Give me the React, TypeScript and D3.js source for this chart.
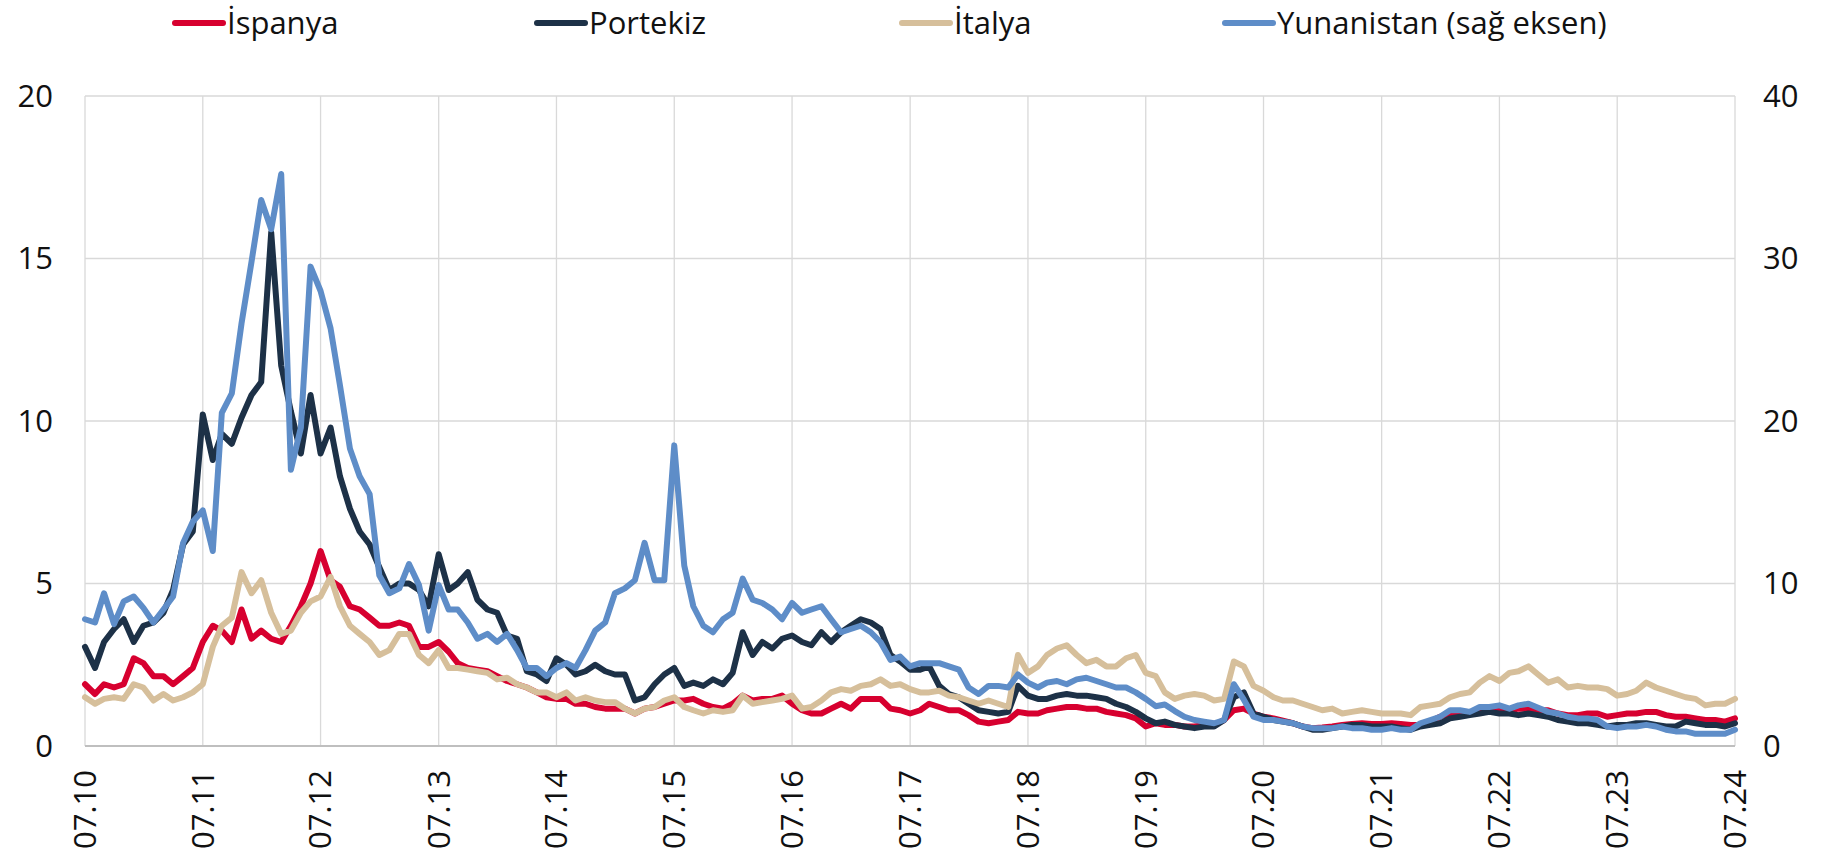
import React from "react";
import * as d3 from "d3";

// monthly values, Jan 2010 .. Jan 2024
const spain = [
  1.9, 1.6, 1.9, 1.8, 1.9, 2.7, 2.55, 2.15, 2.15, 1.9, 2.15, 2.4,
  3.2, 3.7, 3.55, 3.2, 4.2, 3.3, 3.55, 3.3, 3.2, 3.7, 4.3, 5.0,
  6.0, 5.1, 4.9, 4.3, 4.2, 3.95, 3.7, 3.7, 3.8, 3.7, 3.05, 3.05,
  3.2, 2.9, 2.55, 2.4, 2.35, 2.3, 2.15, 2.0, 1.9, 1.8, 1.65, 1.5,
  1.45, 1.45, 1.3, 1.3, 1.2, 1.15, 1.15, 1.15, 1.0, 1.15, 1.2, 1.3,
  1.4, 1.4, 1.45, 1.3, 1.2, 1.15, 1.3, 1.55, 1.4, 1.45, 1.45, 1.55,
  1.3, 1.1, 1.0, 1.0, 1.15, 1.3, 1.15, 1.45, 1.45, 1.45, 1.15, 1.1,
  1.0, 1.1, 1.3, 1.2, 1.1, 1.1, 0.95, 0.75, 0.7, 0.75, 0.8, 1.05,
  1.0, 1.0, 1.1, 1.15, 1.2, 1.2, 1.15, 1.15, 1.05, 1.0, 0.95, 0.85,
  0.6, 0.7, 0.65, 0.65, 0.6, 0.6, 0.65, 0.65, 0.8, 1.1, 1.15, 1.0,
  0.9, 0.85, 0.78, 0.7, 0.6, 0.55, 0.57, 0.6, 0.65, 0.68, 0.7, 0.68,
  0.68, 0.7, 0.68, 0.65, 0.65, 0.75, 0.9, 1.0, 0.95, 1.0, 1.1, 1.2,
  1.1, 1.1, 1.15, 1.15, 1.1, 1.1, 1.0, 0.95, 0.95, 1.0, 1.0, 0.9,
  0.95, 1.0, 1.0, 1.05, 1.05, 0.95, 0.9, 0.9, 0.85, 0.8, 0.8, 0.75,
  0.85,
];

const portugal = [
  3.05, 2.4, 3.2, 3.6, 3.9, 3.2, 3.7, 3.8, 4.1, 4.8, 6.2, 6.6,
  10.2, 8.8, 9.6, 9.3, 10.1, 10.8, 11.2, 15.8, 11.7, 10.3, 9.0, 10.8,
  9.0, 9.8, 8.3, 7.3, 6.6, 6.2, 5.5, 4.8, 5.0, 5.0, 4.8, 4.3,
  5.9, 4.8, 5.0, 5.35, 4.5, 4.2, 4.1, 3.4, 3.3, 2.3, 2.2, 2.0,
  2.7, 2.5, 2.2, 2.3, 2.5, 2.3, 2.2, 2.2, 1.4, 1.5, 1.9, 2.2,
  2.4, 1.85, 1.95, 1.85, 2.05, 1.9, 2.25, 3.5, 2.8, 3.2, 3.0, 3.3,
  3.4, 3.2, 3.1, 3.5, 3.2, 3.5, 3.7, 3.9, 3.8, 3.6, 2.8, 2.6,
  2.35, 2.35, 2.45, 1.85, 1.6, 1.5, 1.3, 1.1, 1.05, 1.0, 1.05, 1.85,
  1.55, 1.45, 1.45, 1.55, 1.6, 1.55, 1.55, 1.5, 1.45, 1.3, 1.2, 1.05,
  0.85, 0.7, 0.75, 0.65, 0.6, 0.55, 0.6, 0.6, 0.8, 1.5, 1.65, 1.0,
  0.9, 0.8, 0.75, 0.7, 0.6, 0.5, 0.5, 0.55, 0.6, 0.65, 0.65, 0.6,
  0.6, 0.6, 0.55, 0.5, 0.6, 0.65, 0.7, 0.85, 0.9, 0.95, 1.0, 1.05,
  1.0, 1.0, 0.95, 1.0, 0.95, 0.9, 0.8, 0.75, 0.7, 0.7, 0.65, 0.6,
  0.65, 0.65, 0.7, 0.7, 0.65, 0.6, 0.6, 0.75, 0.7, 0.65, 0.65, 0.6,
  0.7,
];

const italy = [
  1.5, 1.3, 1.45, 1.5, 1.45, 1.9, 1.8, 1.4, 1.6, 1.4, 1.5, 1.65,
  1.9, 3.05, 3.7, 3.95, 5.35, 4.7, 5.1, 4.1, 3.45, 3.55, 4.1, 4.45,
  4.6, 5.2, 4.3, 3.7, 3.45, 3.2, 2.8, 2.95, 3.45, 3.45, 2.8, 2.55,
  2.95, 2.4, 2.4, 2.35, 2.3, 2.25, 2.05, 2.1, 1.9, 1.8, 1.65, 1.65,
  1.5, 1.65, 1.4, 1.5, 1.4, 1.35, 1.35, 1.15, 1.0, 1.15, 1.2, 1.4,
  1.5, 1.2, 1.1, 1.0, 1.1, 1.05, 1.1, 1.55, 1.3, 1.35, 1.4, 1.45,
  1.55, 1.15, 1.2, 1.4, 1.65, 1.75, 1.7, 1.85, 1.9, 2.05, 1.85, 1.9,
  1.75, 1.65, 1.65, 1.7, 1.55, 1.5, 1.4, 1.3, 1.4, 1.3, 1.2, 2.8,
  2.25, 2.45, 2.8, 3.0, 3.1, 2.8, 2.55, 2.65, 2.45, 2.45, 2.7, 2.8,
  2.25, 2.15, 1.65, 1.45, 1.55, 1.6, 1.55, 1.4, 1.45, 2.6, 2.45, 1.85,
  1.7, 1.5, 1.4, 1.4, 1.3, 1.2, 1.1, 1.15, 1.0, 1.05, 1.1, 1.05,
  1.0, 1.0, 1.0, 0.95, 1.2, 1.25, 1.3, 1.5, 1.6, 1.65, 1.95, 2.15,
  2.0, 2.25, 2.3, 2.45, 2.2, 1.95, 2.05, 1.8, 1.85, 1.8, 1.8, 1.75,
  1.55, 1.6, 1.7, 1.95, 1.8, 1.7, 1.6, 1.5, 1.45, 1.25, 1.3, 1.3,
  1.45,
];

// right axis
const greece = [
  7.8, 7.6, 9.4, 7.5, 8.9, 9.2, 8.5, 7.6, 8.4, 9.2, 12.5, 13.8,
  14.5, 12.0, 20.5, 21.7, 26.0, 29.8, 33.6, 31.8, 35.2, 17.0, 19.6, 29.5,
  28.0, 25.7, 22.2, 18.3, 16.6, 15.5, 10.5, 9.4, 9.7, 11.2, 9.9, 7.1,
  9.9, 8.4, 8.4, 7.6, 6.6, 6.9, 6.4, 6.9, 5.9, 4.8, 4.8, 4.3,
  4.8, 5.1, 4.8, 5.9, 7.1, 7.6, 9.4, 9.7, 10.2, 12.5, 10.2, 10.2,
  18.5, 11.1, 8.6, 7.4, 7.0, 7.8, 8.2, 10.3, 9.0, 8.8, 8.4, 7.8,
  8.8, 8.2, 8.4, 8.6, 7.8, 7.0, 7.2, 7.4, 7.0, 6.4, 5.3, 5.5,
  4.9, 5.1, 5.1, 5.1, 4.9, 4.7, 3.6, 3.2, 3.7, 3.7, 3.6, 4.4,
  3.9, 3.6, 3.9, 4.0, 3.8, 4.1, 4.2, 4.0, 3.8, 3.6, 3.6, 3.3,
  2.9, 2.45, 2.55, 2.15, 1.8, 1.6, 1.5, 1.4, 1.6, 3.8, 2.85, 1.8,
  1.6, 1.6, 1.5, 1.4, 1.2, 1.1, 1.1, 1.1, 1.2, 1.1, 1.1, 1.0,
  1.0, 1.1, 1.0, 1.0, 1.4, 1.6, 1.8, 2.2, 2.2, 2.1, 2.4, 2.4,
  2.5, 2.3, 2.5, 2.6, 2.35, 2.1, 2.0, 1.8, 1.7, 1.7, 1.6, 1.2,
  1.1, 1.2, 1.2, 1.3, 1.2, 1.0, 0.9, 0.9, 0.75, 0.75, 0.75, 0.75,
  1.0,
];

const yearLabels = [
  "07.10", "07.11", "07.12", "07.13", "07.14", "07.15", "07.16", "07.17",
  "07.18", "07.19", "07.20", "07.21", "07.22", "07.23", "07.24",
];
const leftTicks = [0, 5, 10, 15, 20];
const rightTicks = [0, 10, 20, 30, 40];

const seriesInfo = [
  { name: "İspanya", values: spain, color: "#D7002F", axis: "left" },
  { name: "Portekiz", values: portugal, color: "#1D3147", axis: "left" },
  { name: "İtalya", values: italy, color: "#D6BF9B", axis: "left" },
  { name: "Yunanistan (sağ eksen)", values: greece, color: "#5E8DC8", axis: "right" },
];

const W = 1844;
const H = 856;
const m = { left: 85, right: 1735, top: 96, bottom: 746 };
const font = "'Open Sans', sans-serif";

export default function App() {
  const months = d3.timeMonth.range(new Date(2010, 0, 1), new Date(2024, 0, 2));
  const x = d3
    .scaleTime()
    .domain([new Date(2010, 0, 1), new Date(2024, 0, 1)])
    .range([m.left, m.right]);
  const yL = d3.scaleLinear().domain([0, 20]).range([m.bottom, m.top]);
  const yR = d3.scaleLinear().domain([0, 40]).range([m.bottom, m.top]);
  const years = d3.range(2010, 2025).map((yr) => new Date(yr, 0, 1));

  const legendPos = [173, 535, 900, 1223];

  return (
    <svg
      width={W}
      height={H}
      style={{ position: "absolute", left: 0, top: 0, background: "#fff" }}
      fontFamily={font}
    >
      {/* grid */}
      {leftTicks.map((t) => (
        <line key={"h" + t} x1={m.left} x2={m.right} y1={yL(t)} y2={yL(t)} stroke="#D9D9D9" strokeWidth={1.3} />
      ))}
      {years.map((d, i) => (
        <line key={"v" + i} x1={x(d)} x2={x(d)} y1={m.top} y2={m.bottom} stroke="#D9D9D9" strokeWidth={1.3} />
      ))}
      <line x1={m.left} x2={m.right} y1={m.bottom} y2={m.bottom} stroke="#BFBFBF" strokeWidth={2} />

      {/* lines */}
      {seriesInfo.map((s) => {
        const ys = s.axis === "left" ? yL : yR;
        const path = d3
          .line<number>()
          .x((_, i) => x(months[i]))
          .y((v) => ys(v))(s.values);
        return (
          <path key={s.name} d={path || ""} fill="none" stroke={s.color} strokeWidth={6} strokeLinejoin="round" strokeLinecap="round" />
        );
      })}

      {/* left axis labels */}
      {leftTicks.map((t) => (
        <text key={"l" + t} x={53} y={yL(t)} dy="0.35em" textAnchor="end" fontSize={31} fill="#111">
          {t}
        </text>
      ))}
      {rightTicks.map((t) => (
        <text key={"r" + t} x={1763} y={yR(t)} dy="0.35em" textAnchor="start" fontSize={31} fill="#111">
          {t}
        </text>
      ))}
      {years.map((d, i) => (
        <text
          key={"x" + i}
          transform={`translate(${x(d)},${m.bottom + 24}) rotate(-90)`}
          dy="0.35em"
          textAnchor="end"
          fontSize={31}
          fill="#111"
        >
          {yearLabels[i]}
        </text>
      ))}

      {/* legend */}
      {seriesInfo.map((s, i) => (
        <g key={"lg" + i} transform={`translate(${legendPos[i]},23)`}>
          <line x1={2} x2={50} y1={0} y2={0} stroke={s.color} strokeWidth={6} strokeLinecap="round" />
          <text x={54} y={0} dy="0.35em" fontSize={31} fill="#111">
            {s.name}
          </text>
        </g>
      ))}
    </svg>
  );
}
